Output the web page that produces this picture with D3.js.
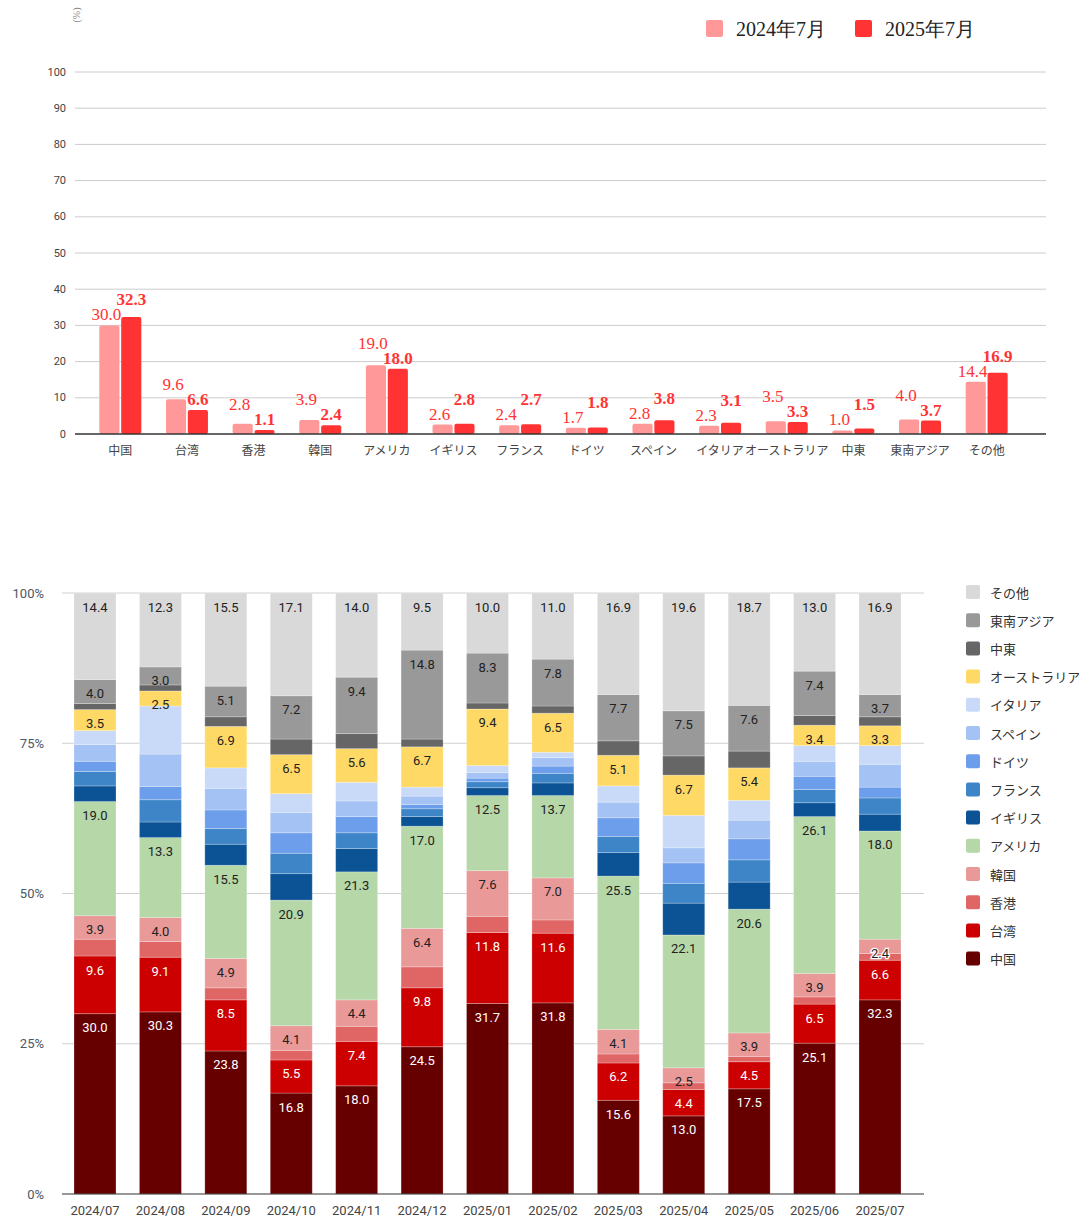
<!DOCTYPE html>
<html>
<head>
<meta charset="utf-8">
<script src="https://cdn.jsdelivr.net/npm/d3@7"></script>
<style>
  body { margin: 0; background: #fff; }
  svg { display: block; }
  .jp { font-feature-settings: "palt"; }
</style>
</head>
<body>
<svg id="chart" width="1079" height="1219"></svg>
<script>
// top chart: share by region, July 2024 vs July 2025
const countries = ["中国", "台湾", "香港", "韓国", "アメリカ", "イギリス", "フランス", "ドイツ", "スペイン", "イタリア", "オーストラリア", "中東", "東南アジア", "その他"];
const share2024 = [30.0, 9.6, 2.8, 3.9, 19.0, 2.6, 2.4, 1.7, 2.8, 2.3, 3.5, 1.0, 4.0, 14.4];
const share2025 = [32.3, 6.6, 1.1, 2.4, 18.0, 2.8, 2.7, 1.8, 3.8, 3.1, 3.3, 1.5, 3.7, 16.9];
const seriesNames = ["2024年7月", "2025年7月"];
const topTicks = [0, 10, 20, 30, 40, 50, 60, 70, 80, 90, 100];

// bottom chart: monthly shares
const months = ["2024/07", "2024/08", "2024/09", "2024/10", "2024/11", "2024/12", "2025/01", "2025/02", "2025/03", "2025/04", "2025/05", "2025/06", "2025/07"];
const china     = [30.0, 30.3, 23.8, 16.8, 18.0, 24.5, 31.7, 31.8, 15.6, 13.0, 17.5, 25.1, 32.3];
const taiwan    = [9.6, 9.1, 8.5, 5.5, 7.4, 9.8, 11.8, 11.6, 6.2, 4.4, 4.5, 6.5, 6.6];
const hongkong  = [2.8, 2.6, 2.0, 1.6, 2.5, 3.5, 2.7, 2.2, 1.5, 1.1, 0.9, 1.2, 1.1];
const korea     = [3.9, 4.0, 4.9, 4.1, 4.4, 6.4, 7.6, 7.0, 4.1, 2.5, 3.9, 3.9, 2.4];
const usa       = [19.0, 13.3, 15.5, 20.9, 21.3, 17.0, 12.5, 13.7, 25.5, 22.1, 20.6, 26.1, 18.0];
const uk        = [2.6, 2.6, 3.5, 4.4, 3.9, 1.6, 1.3, 2.1, 3.9, 5.3, 4.5, 2.3, 2.8];
const france    = [2.4, 3.7, 2.6, 3.4, 2.6, 1.3, 1.0, 1.6, 2.7, 3.3, 3.7, 2.2, 2.7];
const germany   = [1.7, 2.2, 3.1, 3.4, 2.7, 0.7, 0.6, 1.2, 3.1, 3.4, 3.5, 2.2, 1.8];
const spain     = [2.8, 5.4, 3.6, 3.4, 2.6, 1.4, 0.9, 1.4, 2.6, 2.5, 3.1, 2.5, 3.8];
const italy     = [2.3, 8.0, 3.4, 3.1, 3.1, 1.5, 1.2, 0.9, 2.7, 5.4, 3.3, 2.6, 3.1];
const australia = [3.5, 2.5, 6.9, 6.5, 5.6, 6.7, 9.4, 6.5, 5.1, 6.7, 5.4, 3.4, 3.3];
const mideast   = [1.0, 1.0, 1.6, 2.6, 2.5, 1.3, 1.0, 1.2, 2.4, 3.2, 2.8, 1.6, 1.5];
const seasia    = [4.0, 3.0, 5.1, 7.2, 9.4, 14.8, 8.3, 7.8, 7.7, 7.5, 7.6, 7.4, 3.7];
const others    = [14.4, 12.3, 15.5, 17.1, 14.0, 9.5, 10.0, 11.0, 16.9, 19.6, 18.7, 13.0, 16.9];
const monthly = [china, taiwan, hongkong, korea, usa, uk, france, germany, spain, italy, australia, mideast, seasia, others];
const labeled = ["中国", "台湾", "韓国", "アメリカ", "オーストラリア", "東南アジア", "その他"];
const bottomTicks = [0, 0.25, 0.5, 0.75, 1];

const stackColors = ["#660000", "#cc0000", "#e06666", "#ea9999", "#b6d7a8", "#0b5394", "#3d85c6", "#6d9eeb", "#a4c2f4", "#c9daf8", "#ffd966", "#666666", "#999999", "#d9d9d9"];
const pairColors = ["#ff9999", "#ff3333"];

const CJK = "'Noto Sans CJK JP', 'Noto Sans', sans-serif";
const SERIF = "'Liberation Serif', 'DejaVu Serif', serif";

const svg = d3.select("#chart");

// ---------- top chart ----------
const topChart = svg.append("g");

const yTop = d3.scaleLinear().domain([0, 100]).range([434, 72]);
const x0 = d3.scaleBand().domain(countries).range([87, 1020]).paddingInner(0.37).paddingOuter(0.185);
const x1 = d3.scaleBand().domain([0, 1]).range([0, x0.bandwidth()]).paddingInner(0.08);

topChart.append("text")
  .attr("transform", "translate(76,15) rotate(-90)")
  .attr("text-anchor", "middle")
  .attr("dominant-baseline", "central")
  .style("font", "10px " + SERIF)
  .style("fill", "#888")
  .text("(%)");

topChart.append("g")
  .selectAll("line")
  .data(topTicks.slice(1))
  .join("line")
  .attr("x1", 75).attr("x2", 1046)
  .attr("y1", (d) => yTop(d)).attr("y2", (d) => yTop(d))
  .attr("stroke", "#cccccc")
  .attr("stroke-width", 1);

topChart.append("g")
  .selectAll("text")
  .data(topTicks)
  .join("text")
  .attr("x", 66)
  .attr("y", (d) => yTop(d))
  .attr("text-anchor", "end")
  .attr("dominant-baseline", "central")
  .style("font", "11px Roboto, sans-serif")
  .style("fill", "#444")
  .text((d) => d);

const pairs = countries.map((c, i) => ({ c, vals: [share2024[i], share2025[i]] }));

const groups = topChart.append("g")
  .selectAll("g")
  .data(pairs)
  .join("g")
  .attr("transform", (d) => `translate(${x0(d.c)},0)`);

groups.selectAll("rect")
  .data((d) => d.vals)
  .join("rect")
  .attr("x", (d, i) => x1(i))
  .attr("y", (d) => yTop(d))
  .attr("width", x1.bandwidth())
  .attr("height", (d) => yTop(0) - yTop(d))
  .attr("rx", 2)
  .attr("fill", (d, i) => pairColors[i]);

// value labels, nudged apart when the two labels would collide
groups.each(function (d) {
  const ys = d.vals.map((v) => yTop(v) - 5);
  if (Math.abs(ys[0] - ys[1]) < 15) {
    if (d.vals[0] > d.vals[1]) ys[0] = ys[1] - 15;
    else ys[1] = ys[0] - 15;
  }
  d3.select(this).selectAll("text.val")
    .data(d.vals)
    .join("text")
    .attr("class", "val")
    .attr("x", (v, i) => x1(i) + x1.bandwidth() / 2 - (i === 0 ? 3 : 0))
    .attr("y", (v, i) => ys[i])
    .attr("text-anchor", "middle")
    .style("font-family", SERIF)
    .style("font-size", "17px")
    .style("font-weight", (v, i) => (i === 1 ? "bold" : "normal"))
    .style("fill", "#ff3333")
    .text((v) => v.toFixed(1));
});

topChart.append("line")
  .attr("x1", 75).attr("x2", 1046)
  .attr("y1", yTop(0)).attr("y2", yTop(0))
  .attr("stroke", "#333")
  .attr("stroke-width", 1.5);

topChart.append("g")
  .selectAll("text")
  .data(countries)
  .join("text")
  .attr("class", "jp")
  .attr("x", (d) => x0(d) + x0.bandwidth() / 2)
  .attr("y", 449)
  .attr("text-anchor", "middle")
  .attr("dominant-baseline", "central")
  .style("font", "12px " + CJK)
  .style("fill", "#444")
  .text((d) => d);

// legend for top chart
const topLegend = topChart.append("g")
  .selectAll("g")
  .data(seriesNames)
  .join("g")
  .attr("transform", (d, i) => `translate(${706 + i * 149},20)`);

topLegend.append("rect")
  .attr("width", 17).attr("height", 17).attr("rx", 2)
  .attr("fill", (d, i) => pairColors[i]);

topLegend.append("text")
  .attr("x", 30)
  .attr("y", 9)
  .attr("dominant-baseline", "central")
  .style("font", "20px " + SERIF)
  .style("fill", "#222")
  .text((d) => d);

// ---------- bottom chart ----------
const bottomChart = svg.append("g");

const table = months.map((m, j) => {
  const row = { month: m };
  countries.forEach((c, i) => { row[c] = monthly[i][j]; });
  return row;
});

const stacked = d3.stack().keys(countries).offset(d3.stackOffsetExpand)(table);

const xb = d3.scaleBand().domain(months).range([62.3, 912.7]).paddingInner(0.358).paddingOuter(0.179);
const yb = d3.scaleLinear().domain([0, 1]).range([1194, 593]);
const color = d3.scaleOrdinal().domain(countries).range(stackColors);

bottomChart.append("g")
  .selectAll("line")
  .data(bottomTicks.slice(1))
  .join("line")
  .attr("x1", 62).attr("x2", 924)
  .attr("y1", (d) => yb(d)).attr("y2", (d) => yb(d))
  .attr("stroke", "#d0d0d0")
  .attr("stroke-width", 1);

bottomChart.append("g")
  .selectAll("text")
  .data(bottomTicks)
  .join("text")
  .attr("x", 44)
  .attr("y", (d) => yb(d))
  .attr("text-anchor", "end")
  .attr("dominant-baseline", "central")
  .style("font", "13px Roboto, sans-serif")
  .style("fill", "#4a5868")
  .text((d) => d3.format(".0%")(d));

const layers = bottomChart.append("g")
  .selectAll("g")
  .data(stacked)
  .join("g")
  .attr("fill", (d) => color(d.key));

layers.selectAll("rect")
  .data((d) => d)
  .join("rect")
  .attr("x", (d) => xb(d.data.month))
  .attr("y", (d) => yb(d[1]))
  .attr("width", xb.bandwidth())
  .attr("height", (d) => yb(d[0]) - yb(d[1]))
  .attr("stroke", "#ffffff")
  .attr("stroke-opacity", 0.3)
  .attr("stroke-width", 0.8);

const segLabels = bottomChart.append("g");
stacked.filter((s) => labeled.includes(s.key)).forEach((s) => {
  const dark = s.key === "中国" || s.key === "台湾";
  segLabels.append("g")
    .selectAll("text")
    .data(s)
    .join("text")
    .attr("x", (d) => xb(d.data.month) + xb.bandwidth() / 2)
    .attr("y", (d) => yb(d[1]) + 14)
    .attr("text-anchor", "middle")
    .attr("dominant-baseline", "central")
    .style("font", "13px Roboto, sans-serif")
    .style("fill", dark ? "#ffffff" : "#222")
    .style("paint-order", "stroke")
    .style("stroke", (d) => (yb(d[0]) - yb(d[1]) < 14.8 ? "#ffffff" : "none"))
    .style("stroke-width", 2.5)
    .text((d) => d.data[s.key].toFixed(1));
});

bottomChart.append("line")
  .attr("x1", 62).attr("x2", 924)
  .attr("y1", yb(0)).attr("y2", yb(0))
  .attr("stroke", "#333")
  .attr("stroke-width", 1.2);

bottomChart.append("g")
  .selectAll("text")
  .data(months)
  .join("text")
  .attr("x", (d) => xb(d) + xb.bandwidth() / 2)
  .attr("y", 1210)
  .attr("text-anchor", "middle")
  .attr("dominant-baseline", "central")
  .style("font", "13px Roboto, sans-serif")
  .style("fill", "#444")
  .text((d) => d);

// legend for bottom chart, top entry is the last stack layer
const legendKeys = countries.slice().reverse();
const botLegend = bottomChart.append("g")
  .selectAll("g")
  .data(legendKeys)
  .join("g")
  .attr("transform", (d, i) => `translate(966,${585 + i * 28.2})`);

botLegend.append("rect")
  .attr("width", 14).attr("height", 14).attr("rx", 2)
  .attr("fill", (d) => color(d));

botLegend.append("text")
  .attr("class", "jp")
  .attr("x", 24)
  .attr("y", 7)
  .attr("dominant-baseline", "central")
  .style("font", "13px " + CJK)
  .style("fill", "#333")
  .text((d) => d);
</script>
</body>
</html>
